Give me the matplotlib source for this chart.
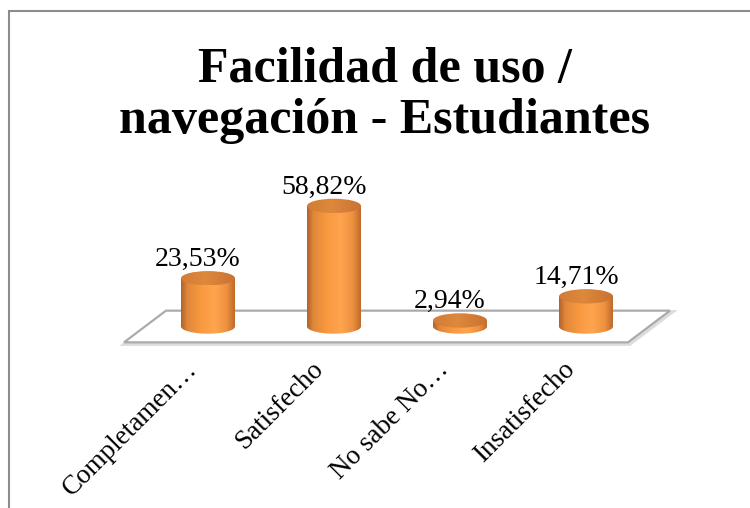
import numpy as np
import matplotlib
matplotlib.use("Agg")
import matplotlib.pyplot as plt
from matplotlib.patches import Polygon, Ellipse, Rectangle
from matplotlib.colors import LinearSegmentedColormap
import matplotlib.transforms as mtransforms

# ---- data ----
categories = ["Completamen…", "Satisfecho", "No sabe No…", "Insatisfecho"]
values = [23.53, 58.82, 2.94, 14.71]
value_labels = ["23,53%", "58,82%", "2,94%", "14,71%"]
title = "Facilidad de uso /\nnavegación - Estudiantes"

# ---- layout constants (pixels) ----
W, H = 750, 508
DPI = 100
x0_px, step_px = 208.0, 126.0      # first category centre, spacing
base_px, scale_px = 326.5, 2.05    # y of zero (from top), px per percent

fig = plt.figure(figsize=(W / DPI, H / DPI), dpi=DPI)
ax = fig.add_axes([0, 0, 1, 1])
ax.set_xlim(-x0_px / step_px, (W - x0_px) / step_px)
ax.set_ylim((base_px - H) / scale_px, base_px / scale_px)
ax.axis("off")

# cylinder geometry in data units
cw = 54.0 / step_px          # cylinder width
eh = 14.4 / scale_px         # ellipse height
# floor geometry
dx = 21.0 / step_px
dy = 15.85 / scale_px
n = len(categories)

floor_pts = [(-0.5 - dx, -dy), (n - 0.5 - dx, -dy), (n - 0.5 + dx, dy), (-0.5 + dx, dy)]
tr = ax.transData + mtransforms.ScaledTranslation(1.5 / DPI, -1.5 / DPI, fig.dpi_scale_trans)
ax.add_patch(Polygon(floor_pts, closed=True, facecolor="none", edgecolor="#DDDDDD",
                     lw=3.0, transform=tr, zorder=1))
ax.add_patch(Polygon(floor_pts, closed=True, facecolor="white", edgecolor="#ABABAB",
                     lw=1.6, zorder=1.5))

body_cmap = LinearSegmentedColormap.from_list(
    "body", [(0.0, "#B0622A"), (0.12, "#E0883A"), (0.35, "#F7983F"), (0.62, "#FFA54F"),
             (0.85, "#EE913F"), (1.0, "#BE6A2D")])
top_cmap = LinearSegmentedColormap.from_list(
    "top", [(0.0, "#D27C36"), (0.45, "#DE883C"), (1.0, "#C87333")])

grad = np.linspace(0, 1, 256).reshape(1, -1)

for i, v in enumerate(values):
    xl, xr = i - cw / 2, i + cw / 2
    t = np.linspace(np.pi, 2 * np.pi, 60)
    arc = np.column_stack([i + cw / 2 * np.cos(t), eh / 2 * np.sin(t)])
    pts = np.vstack([[(xl, v)], [(xl, 0)], arc, [(xr, 0)], [(xr, v)]])
    body = Polygon(pts, closed=True, facecolor="none", edgecolor="none", zorder=2)
    ax.add_patch(body)
    im = ax.imshow(body_cmap(grad), extent=[xl, xr, -eh / 2, v], aspect="auto",
                   interpolation="bilinear", zorder=2)
    im.set_clip_path(body)
    top = Ellipse((i, v), cw, eh, facecolor="none", edgecolor="none", zorder=3)
    ax.add_patch(top)
    im2 = ax.imshow(top_cmap(grad), extent=[xl, xr, v - eh / 2, v + eh / 2], aspect="auto",
                    interpolation="bilinear", zorder=3)
    im2.set_clip_path(top)
    # value label
    ax.annotate(value_labels[i], xy=(i, v + eh / 2), xytext=(-10, 5), textcoords="offset pixels",
                ha="center", va="baseline", fontsize=20, family="Liberation Serif",
                color="black", zorder=5)
    # category label
    ax.annotate(categories[i], xy=(i, -dy), xytext=(-10, -28), textcoords="offset pixels",
                ha="right", va="baseline", rotation=45, rotation_mode="anchor",
                fontsize=19.5, family="Liberation Serif", color="black", zorder=5)

# title
fig.text(385 / W, 1 - 132.5 / H, title, ha="center", va="baseline", fontsize=36,
         fontweight="bold", family="Liberation Serif", linespacing=1.12,
         multialignment="center")

# chart border (partly outside the image)
fig.add_artist(Rectangle((9 / W, -0.1), 1.2, 1 - 11 / H + 0.1, transform=fig.transFigure,
                         facecolor="none", edgecolor="#8C8C8C", lw=1.5))

fig.savefig("out.png", dpi=DPI)
